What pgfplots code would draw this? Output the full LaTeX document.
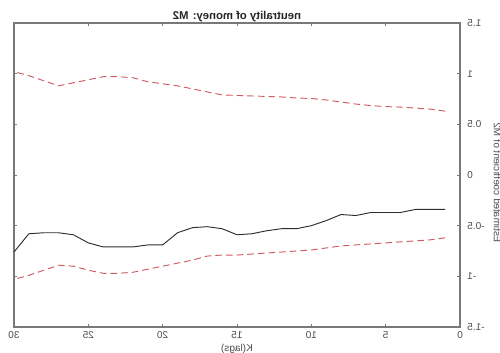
\documentclass[border=0pt]{standalone}
\usepackage{pgfplots}
\pgfplotsset{compat=1.18}
\usepackage{pgfplotstable}
\usepackage{graphicx}
\usepackage{fontspec}
\setmainfont{Liberation Sans}
\definecolor{bandred}{RGB}{205,90,100}
\definecolor{coefblack}{RGB}{45,45,45}
\definecolor{axgray}{RGB}{120,120,120}
\pgfplotstableread{
K  coef   lo     hi
1  -0.34  -0.62  0.63
2  -0.34  -0.64  0.65
3  -0.34  -0.65  0.66
4  -0.37  -0.66  0.67
5  -0.37  -0.67  0.675
6  -0.37  -0.68  0.685
7  -0.40  -0.69  0.70
8  -0.39  -0.70  0.72
9  -0.45  -0.72  0.74
10 -0.50  -0.74  0.755
11 -0.53  -0.75  0.76
12 -0.53  -0.76  0.77
13 -0.55  -0.77  0.775
14 -0.58  -0.78  0.78
15 -0.59  -0.79  0.785
16 -0.53  -0.79  0.79
17 -0.51  -0.80  0.82
18 -0.52  -0.84  0.85
19 -0.57  -0.87  0.88
20 -0.69  -0.90  0.90
21 -0.69  -0.93  0.92
22 -0.71  -0.96  0.96
23 -0.71  -0.97  0.97
24 -0.71  -0.97  0.97
25 -0.67  -0.94  0.94
26 -0.59  -0.90  0.91
27 -0.57  -0.89  0.88
28 -0.57  -0.94  0.93
29 -0.58  -0.99  0.98
30 -0.76  -1.03  1.02
}\datatable
\begin{document}
\begin{tikzpicture}
\begin{axis}[
  scale only axis,
  width=334.5pt, height=228pt,
  x dir=reverse,
  xmin=0, xmax=30, ymin=-1.5, ymax=1.5,
  xtick={0,5,10,15,20,25,30},
  xticklabels={\reflectbox{0},\reflectbox{5},\reflectbox{10},\reflectbox{15},\reflectbox{20},\reflectbox{25},\reflectbox{30}},
  ytick={-1.5,-1,-0.5,0,0.5,1,1.5},
  yticklabels={\reflectbox{-1.5},\reflectbox{-1},\reflectbox{-0.5},\reflectbox{0},\reflectbox{0.5},\reflectbox{1},\reflectbox{1.5}},
  yticklabel pos=right,
  ylabel near ticks,
  tick align=inside,
  major tick length=2.5pt,
  axis line style={axgray, line width=0.8pt},
  tick style={axgray, line width=0.6pt},
  ticklabel style={font=\fontsize{7.5}{9}\selectfont, text=black!70},
  yticklabel style={xshift=2pt},
  title={\reflectbox{\textbf{neutrality of money: M2}}},
  title style={font=\fontsize{8.5}{10}\selectfont, yshift=-8.5pt, text=black!85},
  xlabel={\reflectbox{K(lags)}},
  xlabel style={font=\fontsize{7.5}{9}\selectfont, yshift=3pt, text=black!70},
  ylabel={\scalebox{1}[-1]{Estimated coefficient of M2}},
  ylabel style={font=\fontsize{7.5}{9}\selectfont, text=black!70, xshift=-6pt},
  clip=false,
]
\addplot[coefblack, line width=0.7pt] table[x=K, y=coef] {\datatable};
\addplot[bandred, line width=0.7pt, dash pattern=on 5pt off 3pt] table[x=K, y=lo] {\datatable};
\addplot[bandred, line width=0.7pt, dash pattern=on 5pt off 3pt] table[x=K, y=hi] {\datatable};
\coordinate (sw) at (rel axis cs:0,0);
\coordinate (ne) at (rel axis cs:1,1);
\end{axis}
\pgfresetboundingbox
\path ([xshift=-10.5pt,yshift=-19.5pt]sw) rectangle ([xshift=30pt,yshift=17.25pt]ne);
\end{tikzpicture}
\end{document}
